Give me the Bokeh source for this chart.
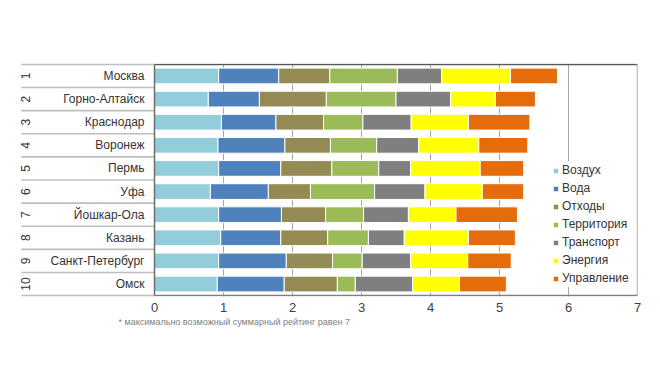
import math
from bokeh.plotting import figure
from bokeh.models import ColumnDataSource, Range1d, FixedTicker, Title
from bokeh.core.properties import value
from bokeh.embed import file_html
from bokeh.resources import INLINE

cities = ["Москва", "Горно-Алтайск", "Краснодар", "Воронеж", "Пермь",
          "Уфа", "Йошкар-Ола", "Казань", "Санкт-Петербург", "Омск"]
ranks = ["1", "2", "3", "4", "5", "6", "7", "8", "9", "10"]
series = ["Воздух", "Вода", "Отходы", "Территория", "Транспорт", "Энергия", "Управление"]
colors = ["#92cddc", "#4f81bd", "#948a54", "#9bbb59", "#7f7f7f", "#ffff00", "#e46c0a"]

air = [0.93, 0.78, 0.97, 0.92, 0.93, 0.81, 0.93, 0.96, 0.93, 0.91]
water = [0.87, 0.74, 0.79, 0.97, 0.90, 0.84, 0.91, 0.87, 0.98, 0.97]
waste = [0.74, 0.97, 0.69, 0.66, 0.74, 0.61, 0.64, 0.68, 0.67, 0.77]
territory = [0.98, 1.01, 0.57, 0.67, 0.68, 0.93, 0.55, 0.59, 0.43, 0.26]
transport = [0.64, 0.79, 0.70, 0.61, 0.46, 0.73, 0.65, 0.52, 0.70, 0.83]
energy = [1.00, 0.65, 0.83, 0.87, 1.01, 0.83, 0.69, 0.93, 0.83, 0.68]
management = [0.68, 0.58, 0.89, 0.71, 0.63, 0.60, 0.89, 0.68, 0.63, 0.68]
x_ticks = [0, 1, 2, 3, 4, 5, 6, 7]
footnote = "* максимально возможный суммарный рейтинг равен 7"

FONT = "Liberation Sans"
ypos = [i + 0.5 for i in range(len(cities))]

data = dict(y=ypos, city=cities, rank=ranks)
for name, vals in zip(series, [air, water, waste, territory, transport, energy, management]):
    data[name] = vals
source = ColumnDataSource(data)

p = figure(width=652, height=385, output_backend="svg", toolbar_location=None,
           x_range=Range1d(-2.029, 7.0), y_range=Range1d(10.04, -0.04),
           y_axis_location=None, min_border_left=14, min_border_right=15,
           min_border_top=63, min_border_bottom=89)
p.outline_line_color = None
p.background_fill_color = "white"
p.border_fill_color = "white"

p.ygrid.grid_line_color = None
p.xgrid.ticker = FixedTicker(ticks=x_ticks[1:-1])
p.xgrid.grid_line_color = "#a6a6a6"
p.xgrid.grid_line_width = 1

p.xaxis.ticker = FixedTicker(ticks=x_ticks)
p.xaxis.axis_line_color = None
p.xaxis.major_tick_line_color = None
p.xaxis.minor_tick_line_color = None
p.xaxis.major_tick_out = 0
p.xaxis.major_tick_in = 0
p.xaxis.major_label_text_font = FONT
p.xaxis.major_label_text_font_size = "13px"
p.xaxis.major_label_text_color = "#404040"
p.xaxis.major_label_standoff = 6

# table lines on the left
n = len(cities)
p.segment(x0=[-1.93] * (n + 1), x1=[0] * (n + 1), y0=list(range(n + 1)), y1=list(range(n + 1)),
          line_color="#bfbfbf", line_width=1.6)

bars = p.hbar_stack(series, y="y", height=0.68, color=colors, source=source,
                    legend_label=series, line_color="white", line_width=1)

# plot box lines
p.segment(x0=[0], x1=[7], y0=[0], y1=[0], line_color="#595959", line_width=1.5)
p.segment(x0=[7], x1=[7], y0=[0], y1=[10], line_color="#8c8c8c", line_width=1.3)
p.segment(x0=[0], x1=[0], y0=[0], y1=[10], line_color="#6e6e6e", line_width=1.5)
p.segment(x0=[0], x1=[7], y0=[10], y1=[10], line_color="#7f7f7f", line_width=1.5)

p.text(x=[-0.145] * n, y=ypos, text=cities, text_align="right", text_baseline="middle",
       text_font=value(FONT), text_font_size="12px", text_color="#333333")
p.text(x=[-1.87] * n, y=ypos, text=ranks, angle=math.pi / 2, text_align="center",
       text_baseline="middle", text_font=value(FONT), text_font_size="12px",
       text_color="#333333")

leg = p.legend[0]
leg.location = (538, 9)
leg.background_fill_color = "white"
leg.background_fill_alpha = 1
leg.border_line_color = None
leg.glyph_width = 7
leg.glyph_height = 7
leg.label_standoff = 3
leg.label_height = 18
leg.spacing = 0
leg.padding = 3
leg.margin = 0
leg.label_text_font = FONT
leg.label_text_font_size = "12px"
leg.label_text_color = "#333333"

p.add_layout(Title(text=footnote, align="left", offset=104, text_font=FONT,
                   text_font_size="9px", text_font_style="normal",
                   text_color="#808080", standoff=0), "below")

open("out.html", "w").write(file_html(p, INLINE))
